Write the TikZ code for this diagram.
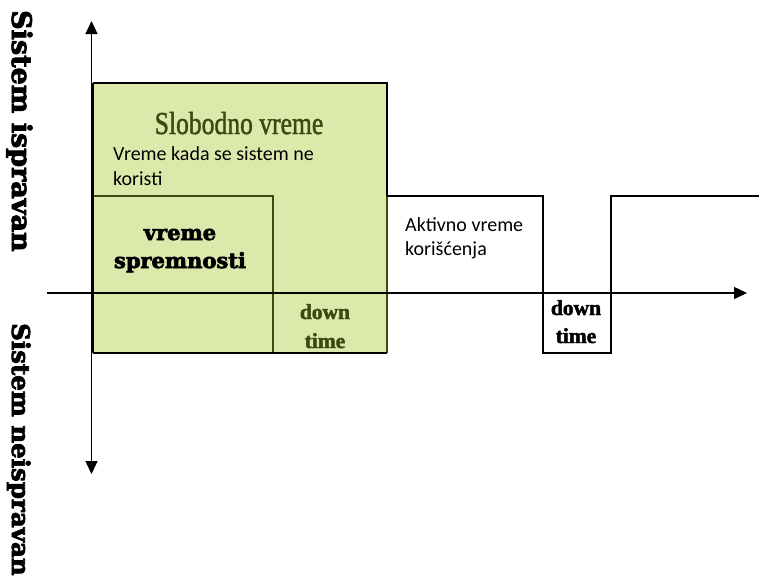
\documentclass[tikz,border=0pt]{standalone}
\usepackage{fontspec}
\setmainfont{Liberation Serif}
\newfontfamily\bodysans{Carlito}
\newfontfamily\heavyserif[BoldFeatures={FakeBold=3}]{DejaVu Serif}
\newfontfamily\thickserif[FakeBold=1.5]{Liberation Serif}
\newfontfamily\boldserif[BoldFeatures={FakeBold=2}]{Liberation Serif}
\usetikzlibrary{arrows.meta}
\definecolor{freefill}{HTML}{DBE9AB}
\definecolor{olivedark}{HTML}{3A4A10}
\definecolor{oliveline}{HTML}{3A4A10}
\begin{document}
\begin{tikzpicture}[x=1pt,y=-1pt,
  axisline/.style={line width=1.4pt,-{Triangle[length=13pt,width=12pt]}},
  wave/.style={line width=1.6pt,line join=miter},
  innerline/.style={oliveline,line width=1.3pt},
  sidelabel/.style={font=\heavyserif\bfseries,rotate=-90,anchor=base west,inner sep=0pt},
  notetext/.style={font=\bodysans\fontsize{20}{24}\selectfont,anchor=base west,inner sep=0pt},
  readytext/.style={font=\heavyserif\bfseries\fontsize{21}{26}\selectfont,anchor=base,inner sep=0pt},
  downtext/.style={font=\boldserif\bfseries\fontsize{21.5}{26}\selectfont,anchor=base,inner sep=0pt},
  titletext/.style={font=\thickserif\fontsize{32}{36}\selectfont,text=olivedark,anchor=base,inner sep=0pt,xscale=0.8}]
\useasboundingbox (0,0) rectangle (759,582);

% free time block
\coordinate (fNW) at (93,83);
\coordinate (fSE) at (387,353);
\fill[freefill] (fNW) rectangle (fSE);

% inner division lines
\coordinate (rNE) at (273,196);
\coordinate (rW) at (93,196);
\coordinate (rS) at (273,353);
\coordinate (aL) at (93,293);
\coordinate (aR) at (387,293);
\coordinate (eTop) at (387,196);
\draw[innerline] (rW) -- (rNE) -- (rS);
\draw[innerline] (aL) -- (aR);
\draw[innerline] (eTop) -- (fSE);
\draw[line width=1.6pt] (93,353) -- (fSE);
\draw[line width=1.6pt] (fNW) -- (387,83) -- (eTop);
\draw[line width=1.6pt] (fNW) -- (93,353);

% axes
\coordinate (yLow) at (91.5,474);
\coordinate (yHigh) at (91.5,21);
\coordinate (xLeft) at (47,293);
\coordinate (xRight) at (747,293);
\draw[axisline] (91.5,293) -- (yHigh);
\draw[axisline] (91.5,293) -- (yLow);
\draw[axisline] (xLeft) -- (xRight);

% state waveform
\coordinate (w1) at (387,196);
\coordinate (w2) at (543,196);
\coordinate (w3) at (543,353);
\coordinate (w4) at (611,353);
\coordinate (w5) at (611,196);
\coordinate (w6) at (760,196);
\draw[wave] (w1) -- (w2) -- (w3) -- (w4) -- (w5) -- (w6);

% labels
\node[titletext] (title) at (239,134) {Slobodno vreme};
\node[notetext] (note1) at (113,160) {Vreme kada se sistem ne};
\node[notetext] (note2) at (113,185) {koristi};
\node[readytext] (ready1) at (180,240) {vreme};
\node[readytext] (ready2) at (180,268) {spremnosti};
\node[downtext,text=olivedark] (dA1) at (325,319) {down};
\node[downtext,text=olivedark] (dA2) at (325,348) {time};
\node[downtext] (dB1) at (576,315) {down};
\node[downtext] (dB2) at (576,343) {time};
\node[notetext] (act1) at (405,231) {Aktivno vreme};
\node[notetext] (act2) at (405,255) {korišćenja};

\node[sidelabel,font=\heavyserif\bfseries\fontsize{27}{30}\selectfont] (up) at (12,10) {Sistem ispravan};
\node[sidelabel,font=\heavyserif\bfseries\fontsize{24.5}{30}\selectfont] (down) at (12,323) {Sistem neispravan};
\end{tikzpicture}
\end{document}
